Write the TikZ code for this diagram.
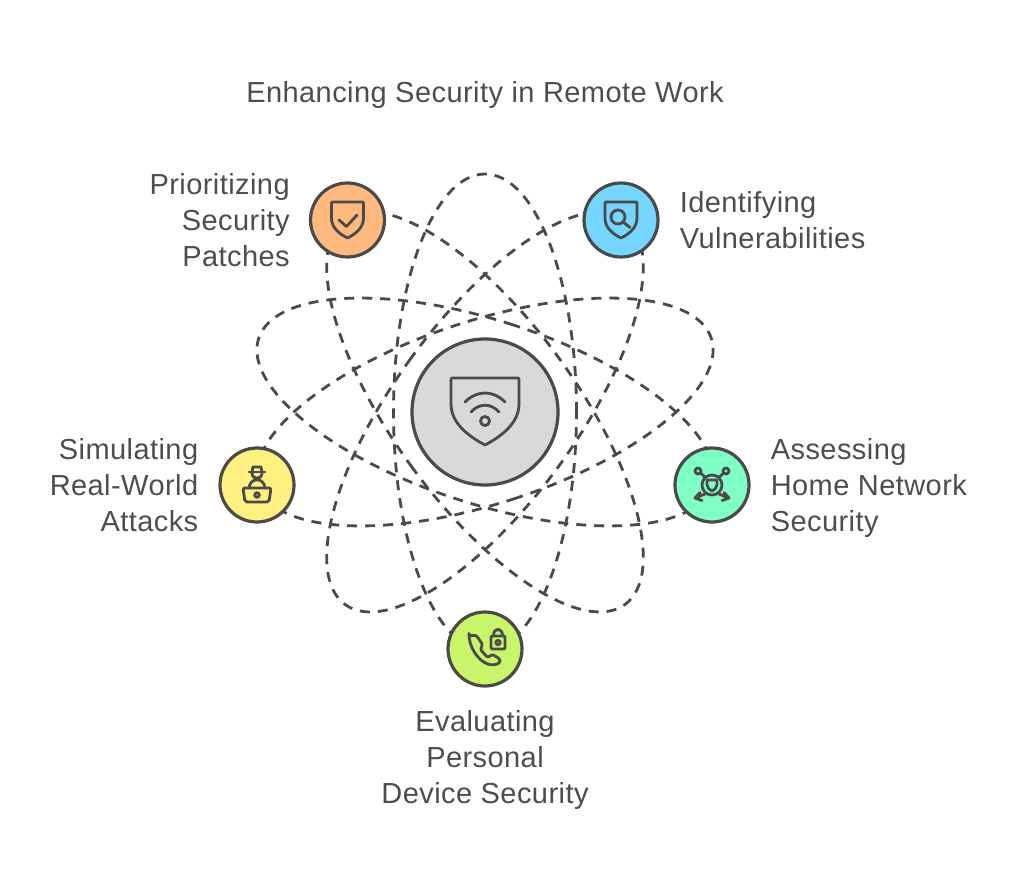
\documentclass[tikz,border=0pt]{standalone}
\usepackage{fontspec}
\setmainfont[LetterSpace=1.5]{Liberation Sans}
\usetikzlibrary{positioning}
\definecolor{inkDark}{HTML}{4A4A4A}
\definecolor{labelGray}{HTML}{4D4D4D}
\definecolor{hubFill}{HTML}{D9D9D9}
\definecolor{prioFill}{HTML}{FFB97F}
\definecolor{identFill}{HTML}{75D6FF}
\definecolor{simFill}{HTML}{FFF07F}
\definecolor{assessFill}{HTML}{80FFC4}
\definecolor{evalFill}{HTML}{C8F56A}
\tikzset{
  orbit/.style={draw=inkDark, line width=2.8pt, dash pattern=on 10pt off 8pt},
  satellite/.style={circle, draw=inkDark, line width=3.2pt, minimum size=74pt, inner sep=0pt},
  lbl/.style={text=labelGray, inner sep=0pt, yshift=-5pt, font=\fontsize{29}{36}\selectfont,
    execute at begin node=\strut, execute at end node=\strut},
  glyph/.style={draw=inkDark, line width=2.8pt, line cap=round, line join=round},
  smallshield/.pic={
    \draw[glyph] (-14,18) .. controls (-5,18) and (5,18) .. (14,18) .. controls (16,18) .. (16,16) -- (16,2)
      .. controls (16,-8) and (8,-14) .. (0,-18)
      .. controls (-8,-14) and (-16,-8) .. (-16,2) -- (-16,16) .. controls (-16,18) .. (-14,18) -- cycle;
  }
}
\begin{document}
\begin{tikzpicture}[x=1pt,y=1pt]
    \useasboundingbox (0,0) rectangle (1024,887);

    % --- Coordinates ---
    \coordinate (C) at (485,475);  % Hub centre

    % --- Orbits ---
    \foreach \ang in {0,72,144,216,288}
      \draw[orbit, rotate around={\ang:(C)}] (C) ellipse (91.5pt and 238pt);

    % --- Hub and satellites ---
    \node[circle, draw=inkDark, fill=hubFill, line width=3.2pt, minimum size=146pt, inner sep=0pt] (hub) at (C) {};
    \node[satellite, fill=prioFill] (prio) at (347.5,667) {};
    \node[satellite, fill=identFill] (ident) at (621,667) {};
    \node[satellite, fill=simFill] (sim) at (257,402) {};
    \node[satellite, fill=assessFill] (assess) at (712,402) {};
    \node[satellite, fill=evalFill] (eval) at (485,238) {};

    % --- Hub icon ---
    \begin{scope}[shift={(hub.center)}]
      \draw[glyph] (-32,34) -- (32,34) .. controls (34,34) .. (34,32) -- (34,8)
        .. controls (34,-12) and (15,-25) .. (0,-33)
        .. controls (-15,-25) and (-34,-12) .. (-34,8) -- (-34,32) .. controls (-34,34) .. (-32,34) -- cycle;
      \draw[glyph] (-20,10) .. controls (-8,22) and (8,22) .. (20,10);
      \draw[glyph] (-14,0) .. controls (-6,9) and (6,9) .. (14,0);
      \draw[glyph] (0,-9) circle (4.5pt);
    \end{scope}

    % --- Shield with check ---
    \begin{scope}[shift={(prio.center)}]
      \pic {smallshield};
      \draw[glyph] (-8.5,0) -- (-1,-6.5) -- (9.5,5);
    \end{scope}

    % --- Shield with lens ---
    \begin{scope}[shift={(ident.center)}]
      \pic {smallshield};
      \draw[glyph] (-3,3) circle (7pt);
      \draw[glyph] (2,-2) -- (9,-7.5);
    \end{scope}

    % --- Figure behind laptop ---
    \begin{scope}[shift={(sim.center)}]
      \draw[glyph, rounded corners=2pt] (-14,-3) -- (14,-3) -- (12,-17) -- (-12,-17) -- cycle;
      \draw[glyph] (0,-10) circle (2.3pt);
      \draw[glyph] (-8,-3) .. controls (-7,8) and (7,8) .. (8,-3);
      \draw[glyph] (-8,13) -- (8,13);
      \draw[glyph] (-5,13) -- (-4,18) -- (4,18) -- (5,13);
      \draw[glyph] (-5,12) .. controls (-5,5) and (5,5) .. (5,12);
    \end{scope}

    % --- Network with shield ---
    \begin{scope}[shift={(assess.center)}]
      \draw[glyph] (0,0) circle (10pt);
      \draw[glyph] (-5,5) -- (5,5) -- (5,0) .. controls (5,-3) and (2,-5) .. (0,-6)
        .. controls (-2,-5) and (-5,-3) .. (-5,0) -- cycle;
      \draw[glyph] (-14,14) circle (3pt);
      \draw[glyph] (14,14) circle (3pt);
      \draw[glyph] (-11.5,12) -- (-7,8);
      \draw[glyph] (12,12) -- (7,8);
      \draw[glyph] (-7,-9) -- (-17,-13) (-12,-7.5) -- (-17,-13) -- (-10,-15.5);
      \draw[glyph] (7,-9) -- (17,-13) (12,-7.5) -- (17,-13) -- (10,-15.5);
    \end{scope}

    % --- Phone with lock ---
    \begin{scope}[shift={(eval.center)}]
      \draw[glyph, rounded corners=2.5pt] (-16,13) -- (-9,14) -- (-2,4) -- (-5,0) -- (3,-9)
        -- (7,-5) -- (15,-10) -- (15,-14) -- (9,-16) .. controls (-4,-15) and (-14,-2) .. (-16,13) -- cycle;
      \draw[glyph, rounded corners=1pt] (6,0) rectangle (20,13);
      \draw[glyph] (8.5,13) .. controls (8.5,22) and (17.5,22) .. (17.5,13);
      \draw[glyph] (13,6.5) circle (2.2pt);
    \end{scope}

    % --- Labels ---
    \node[lbl] (title) at (485,797) {Enhancing Security in Remote Work};
    \node[lbl, align=right, left=19pt of prio] (priotxt) {Prioritizing\\Security\\Patches};
    \node[lbl, align=left, right=20pt of ident] (identtxt) {Identifying\\Vulnerabilities};
    \node[lbl, align=right, left=20pt of sim] (simtxt) {Simulating\\Real-World\\Attacks};
    \node[lbl, align=left, right=20pt of assess] (assesstxt) {Assessing\\Home Network\\Security};
    \node[lbl, align=center, below=18pt of eval] (evaltxt) {Evaluating\\Personal\\Device Security};
\end{tikzpicture}
\end{document}
